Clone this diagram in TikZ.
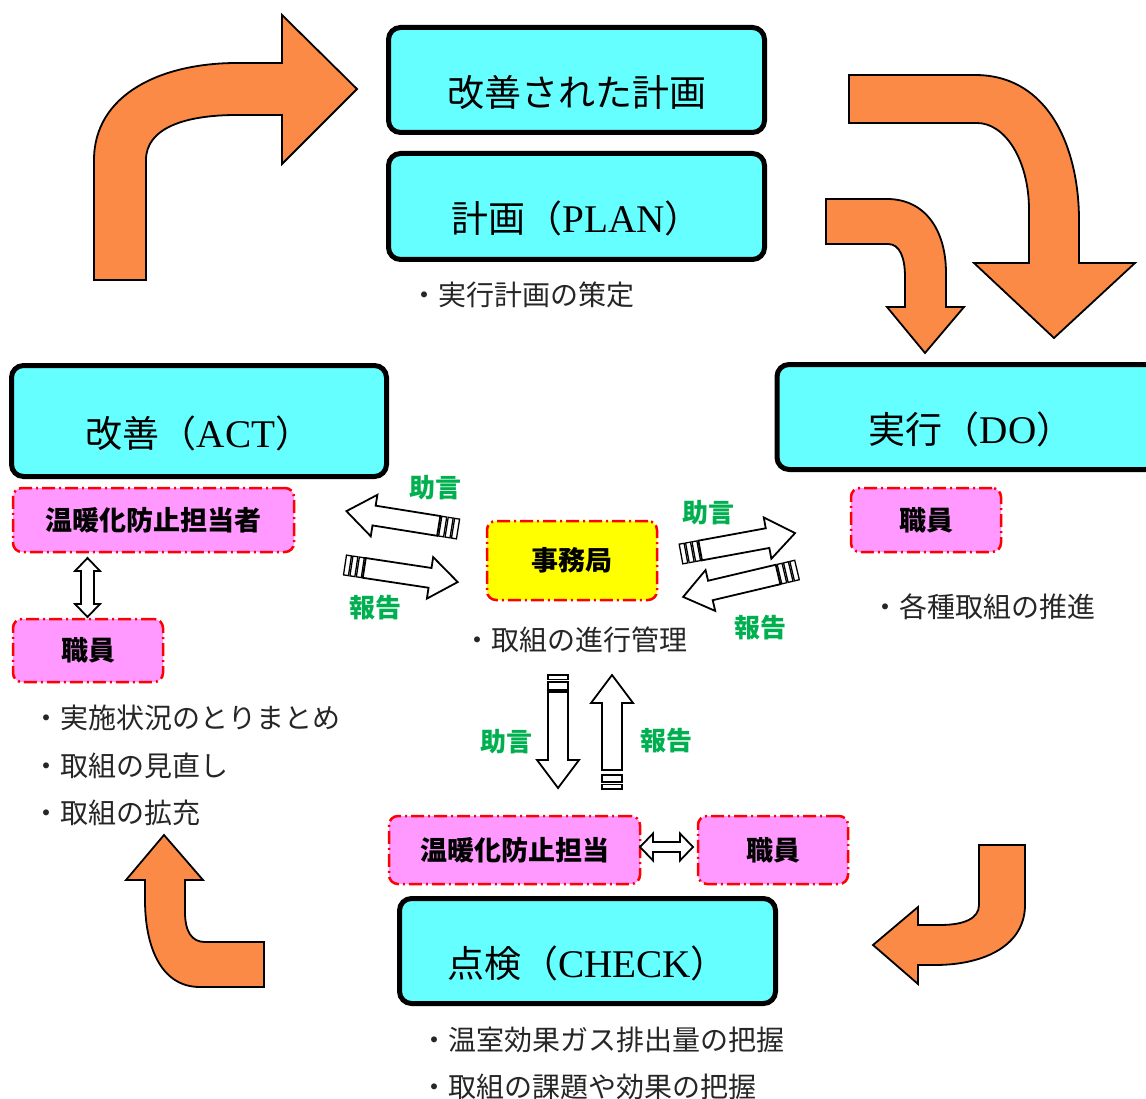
\documentclass[tikz,border=0pt]{standalone}
\usepackage{fontspec}
\setmainfont{Liberation Serif}[Scale=1.06]
\newfontfamily\jp{Noto Sans CJK JP}
\definecolor{cyanfill}{HTML}{66FFFF}
\definecolor{pinkfill}{HTML}{FF99FF}
\definecolor{orangefill}{HTML}{FA8A45}
\definecolor{greentext}{HTML}{00B050}
\definecolor{yellowfill}{HTML}{FFFF00}
\newcommand\stripearrow[6]{%
  \begin{scope}[shift={(#1,#2)},rotate=#3]
    \foreach \sa/\sb in {#5}{\draw[blockarrow, line width=1.3pt] (\sa,-10) rectangle (\sb,10);}
    \draw[blockarrow] (#6,-10) -- ({#4-28},-10) -- ({#4-28},-21) -- (#4,0) -- ({#4-28},21) -- ({#4-28},10) -- (#6,10) -- cycle;
  \end{scope}}
\newcommand\dblarrow[6]{%
  \begin{scope}[shift={(#1,#2)},rotate=#3]
    \draw[blockarrow] (0,0) -- (13,-#5) -- (13,-#6) -- ({#4-13},-#6) -- ({#4-13},-#5) -- (#4,0) -- ({#4-13},#5) -- ({#4-13},#6) -- (13,#6) -- (13,#5) -- cycle;
  \end{scope}}
\begin{document}
\begin{tikzpicture}[x=1pt,y=-1pt,
  cyanbox/.style={draw=black, line width=5pt, fill=cyanfill, rounded corners=12pt,
    text height=53pt, text depth=0pt, inner sep=0pt, font=\jp\fontsize{37}{42}\selectfont},
  pinkbox/.style={draw=red, line width=2.5pt, dash pattern=on 13pt off 4pt on 2pt off 4pt,
    fill=pinkfill, rounded corners=9pt, inner sep=0pt, font=\jp\bfseries\fontsize{27}{30}\selectfont},
  bullet/.style={anchor=west, inner sep=0pt, font=\jp\fontsize{28}{32}\selectfont, text=black!85},
  glabel/.style={inner sep=0pt, font=\jp\bfseries\fontsize{26}{30}\selectfont, text=greentext},
  orangearrow/.style={fill=orangefill, draw=black, line width=1.8pt, line join=miter},
  blockarrow/.style={fill=white, draw=black, line width=1.8pt, line join=miter}]
\useasboundingbox (0,0) rectangle (1146,1099);
\clip (0,0) rectangle (1146,1099);

% orange cycle arrows
\draw[orangearrow] (94,280) -- (94,160) .. controls (94,95) and (160,63) .. (237,63) -- (282,63) -- (282,15) -- (357,89) -- (282,164) -- (282,115) -- (237,115) .. controls (185,115) and (146,128) .. (146,160) -- (146,280) -- cycle;
\draw[orangearrow] (849,75) -- (975,75) .. controls (1050,75) and (1079,150) .. (1079,220) -- (1079,263) -- (1135,263) -- (1054,338) -- (974,263) -- (1029,263) -- (1029,210) .. controls (1029,160) and (1005,123) .. (977,123) -- (849,123) -- cycle;
\draw[orangearrow] (826,199) -- (887,199) .. controls (925,199) and (946,230) .. (946,273) -- (946,307) -- (964,307) -- (925,353) -- (887,307) -- (905,307) -- (905,277) .. controls (905,258) and (900,244) .. (888,244) -- (826,244) -- cycle;
\draw[orangearrow] (979,845) -- (1025,845) -- (1025,905) .. controls (1025,945) and (985,965) .. (935,965) -- (918,965) -- (918,984) -- (873,945) -- (918,907) -- (918,925) -- (940,925) .. controls (965,925) and (979,918) .. (979,905) -- cycle;
\draw[orangearrow] (264,942) -- (264,987) -- (200,987) .. controls (160,987) and (145,945) .. (145,900) -- (145,880) -- (126,880) -- (164,835) -- (203,880) -- (185,880) -- (185,912) .. controls (185,932) and (192,942) .. (205,942) -- cycle;

% main boxes
\node[cyanbox, minimum width=376, minimum height=105] (kplan) at (576.5,80) {改善された計画};
\node[cyanbox, minimum width=376, minimum height=106] (plan) at (576.5,206.5) {計画（{\rmfamily PLAN}）};
\node[cyanbox, minimum width=375, minimum height=111] (act) at (199,421) {改善（{\rmfamily ACT}）};
\node[cyanbox, minimum width=388, minimum height=105] (do) at (971,417) {実行（{\rmfamily DO}）};
\node[cyanbox, minimum width=376, minimum height=105] (check) at (587.5,951) {点検（{\rmfamily CHECK}）};

% people boxes
\node[pinkbox, minimum width=281, minimum height=64] (tantoL) at (153.5,520) {温暖化防止担当者};
\node[pinkbox, minimum width=150, minimum height=63] (staffL) at (88,650.5) {職員};
\node[pinkbox, minimum width=150, minimum height=64] (staffD) at (926,520) {職員};
\node[pinkbox, minimum width=251, minimum height=68] (tantoC) at (514.5,850) {温暖化防止担当};
\node[pinkbox, minimum width=150, minimum height=68] (staffC) at (773,850) {職員};
\node[pinkbox, fill=yellowfill, minimum width=170, minimum height=79] (jimu) at (572,560.5) {事務局};

% bullet texts
\node[bullet] (tplan) at (410,295) {・実行計画の策定};
\node[bullet] (tdo) at (871,607) {・各種取組の推進};
\node[bullet] (tjimu) at (463,640) {・取組の進行管理};
\node[bullet] (tact1) at (32,718) {・実施状況のとりまとめ};
\node[bullet] (tact2) at (32,766) {・取組の見直し};
\node[bullet] (tact3) at (32,813) {・取組の拡充};
\node[bullet] (tchk1) at (420,1040) {・温室効果ガス排出量の把握};
\node[bullet] (tchk2) at (420,1087) {・取組の課題や効果の把握};

% advice / report arrows
\stripearrow{458}{529}{170.9}{113}{0/5,6.5/11.5,13/18}{19.5}
\stripearrow{345}{565}{-8.6}{114}{0/5,6.5/11.5,13/18}{19.5}
\stripearrow{681}{554}{10.4}{116}{0/5,6.5/11.5,13/18}{19.5}
\stripearrow{797}{570}{193.3}{117}{0/5,6.5/11.5,13/18}{19.5}
\stripearrow{558}{675}{-90}{113}{0/4.5,7/15}{17}
\stripearrow{612}{789}{90}{114}{0/4.5,7/14}{19}

% double arrows between people boxes
\dblarrow{87.5}{558}{-90}{59}{12.5}{6.5}
\dblarrow{640}{847}{0}{53}{13.5}{5}

% green labels
\node[glabel] (adv1) at (435,488) {助言};
\node[glabel] (rep1) at (375,608) {報告};
\node[glabel] (adv2) at (708,513) {助言};
\node[glabel] (rep2) at (760,628) {報告};
\node[glabel] (adv3) at (506,742) {助言};
\node[glabel] (rep3) at (666,741) {報告};
\end{tikzpicture}
\end{document}
